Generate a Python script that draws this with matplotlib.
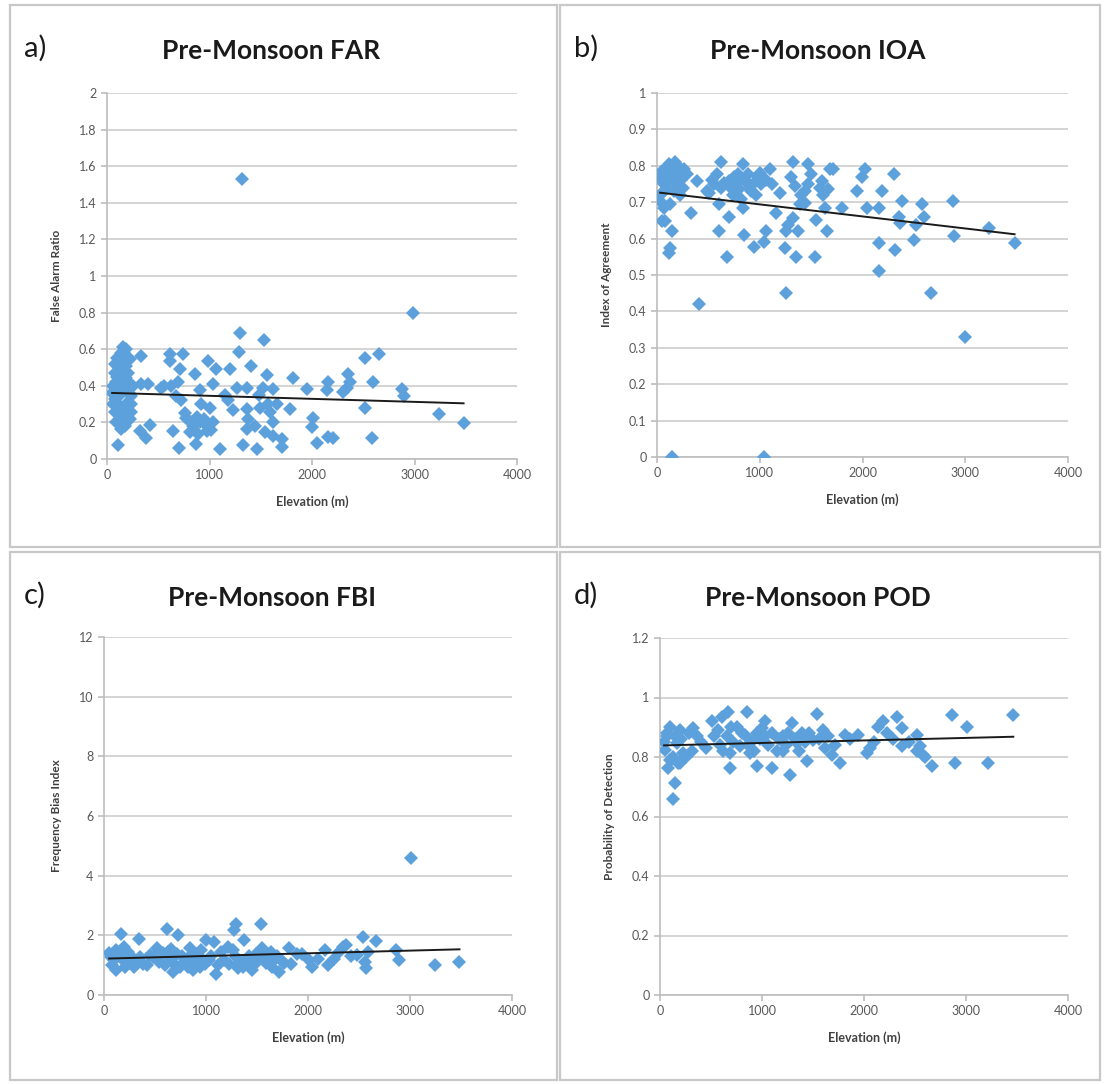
import numpy as np
import matplotlib
matplotlib.use('Agg')
import matplotlib.pyplot as plt
from matplotlib.patches import Rectangle

# ---- data: (elevation m, value) ----
far_points = [
    (2990, 0.80), (1296, 0.69), (1534, 0.65), (1290, 0.585), (335, 0.565),
    (612, 0.575), (742, 0.575), (156, 0.61), (140, 0.58), (987, 0.535),
    (1068, 0.49), (1199, 0.49), (1400, 0.51), (612, 0.535), (710, 0.49),
    (857, 0.465), (1557, 0.46), (1811, 0.44), (2160, 0.42), (2355, 0.465),
    (2371, 0.42), (2518, 0.55), (2658, 0.575), (2593, 0.42), (2876, 0.38),
    (2893, 0.345), (1948, 0.38), (2143, 0.375), (2306, 0.365), (2339, 0.39),
    (335, 0.41), (401, 0.41), (531, 0.39), (629, 0.40), (678, 0.345),
    (726, 0.32), (906, 0.375), (1036, 0.41), (1182, 0.32), (1264, 0.39),
    (1362, 0.39), (1524, 0.39), (1622, 0.385), (1655, 0.30), (1785, 0.275),
    (1492, 0.28), (1590, 0.255), (1362, 0.275), (1378, 0.22), (1443, 0.18),
    (1362, 0.165), (1329, 0.075), (1459, 0.055), (1541, 0.145), (1622, 0.125),
    (1704, 0.11), (1704, 0.065), (1101, 0.055), (704, 0.06), (866, 0.08),
    (645, 0.155), (319, 0.155), (378, 0.115), (417, 0.185), (107, 0.075),
    (775, 0.225), (840, 0.18), (906, 0.20), (971, 0.18), (1036, 0.20),
    (808, 0.145), (1003, 0.28), (971, 0.155), (889, 0.135), (2013, 0.225),
    (1997, 0.175), (2045, 0.09), (2160, 0.12), (2208, 0.115), (2518, 0.28),
    (2583, 0.115), (3235, 0.245), (3479, 0.195), (75, 0.47), (91, 0.42),
    (124, 0.38), (173, 0.545), (189, 0.51), (205, 0.47), (156, 0.435),
    (75, 0.33), (124, 0.29), (189, 0.27), (75, 0.255), (124, 0.22),
    (173, 0.18), (221, 0.22), (140, 0.165), (91, 0.20), (238, 0.345),
    (59, 0.40), (221, 0.545), (140, 0.49), (189, 0.60), (107, 0.365),
    (205, 0.31), (156, 0.235), (238, 0.255), (1317, 1.53),
    (60, 0.30), (80, 0.52), (100, 0.45), (110, 0.40), (130, 0.35),
    (150, 0.52), (170, 0.38), (190, 0.44), (200, 0.42), (210, 0.36),
    (230, 0.30), (95, 0.55), (170, 0.58), (250, 0.40), (120, 0.50),
    (50, 0.36), (560, 0.40), (690, 0.42), (760, 0.25), (920, 0.30),
    (1150, 0.35), (1230, 0.27), (1480, 0.35), (1570, 0.30), (1620, 0.20),
    (950, 0.22), (1010, 0.16), (820, 0.20), (880, 0.23),
]

ioa_points = [
    (180, 0.81), (114, 0.805), (49, 0.786), (82, 0.768), (147, 0.777),
    (212, 0.78), (65, 0.75), (196, 0.75), (294, 0.777), (392, 0.758),
    (327, 0.67), (33, 0.72), (65, 0.684), (82, 0.647), (147, 0.62),
    (131, 0.573), (114, 0.56), (49, 0.647), (33, 0.703), (131, 0.694),
    (621, 0.81), (588, 0.777), (507, 0.726), (605, 0.694), (703, 0.66),
    (686, 0.55), (605, 0.62), (654, 0.754), (752, 0.768), (833, 0.805),
    (882, 0.777), (948, 0.754), (1013, 0.749), (801, 0.735), (833, 0.684),
    (850, 0.61), (948, 0.578), (1046, 0.59), (1062, 0.62), (1095, 0.79),
    (1193, 0.726), (1160, 0.67), (1242, 0.573), (1260, 0.45), (1324, 0.81),
    (1307, 0.768), (1340, 0.745), (1405, 0.721), (1389, 0.694), (1471, 0.805),
    (1503, 0.777), (1438, 0.698), (1324, 0.656), (1275, 0.638), (1373, 0.62),
    (1258, 0.62), (1356, 0.55), (1536, 0.55), (1552, 0.652), (1601, 0.758),
    (1667, 0.735), (1683, 0.79), (1716, 0.79), (1634, 0.684), (1650, 0.62),
    (1797, 0.684), (1944, 0.73), (1994, 0.768), (2026, 0.79), (2042, 0.684),
    (2157, 0.684), (2189, 0.73), (2157, 0.587), (2157, 0.51), (2304, 0.777),
    (2320, 0.57), (2386, 0.703), (2353, 0.66), (2369, 0.643), (2516, 0.638),
    (2500, 0.596), (2582, 0.694), (2598, 0.66), (2663, 0.45), (2876, 0.703),
    (2892, 0.606), (3235, 0.629), (3480, 0.587), (409, 0.42), (145, 0.0),
    (1040, 0.0), (3000, 0.33), (703, 0.758), (768, 0.75), (882, 0.75),
    (980, 0.768), (556, 0.75), (490, 0.73), (784, 0.777), (915, 0.73),
    (817, 0.708), (1438, 0.73), (1471, 0.75), (1618, 0.72), (1585, 0.74),
    (40, 0.76), (60, 0.78), (90, 0.79), (110, 0.77), (130, 0.76),
    (160, 0.79), (190, 0.77), (230, 0.76), (250, 0.74), (100, 0.74),
    (70, 0.73), (170, 0.73), (220, 0.72), (260, 0.79), (30, 0.77),
    (200, 0.80), (150, 0.80), (540, 0.76), (620, 0.74), (720, 0.74),
    (860, 0.76), (900, 0.74), (960, 0.72), (1000, 0.78), (1060, 0.76),
    (740, 0.72), (1120, 0.75),
]

fbi_points = [
    (3007, 4.6), (1293, 2.39), (1277, 2.17), (1542, 2.39), (614, 2.22),
    (728, 2.0), (162, 2.06), (340, 1.89), (1002, 1.83), (1083, 1.78),
    (1374, 1.83), (1212, 1.61), (841, 1.56), (517, 1.56), (1552, 1.56),
    (1810, 1.56), (2166, 1.5), (2344, 1.61), (2376, 1.67), (2538, 1.94),
    (2668, 1.81), (2587, 1.44), (2861, 1.5), (2894, 1.17), (3249, 1.0),
    (3485, 1.11), (2554, 1.11), (2571, 0.89), (2037, 0.94), (2199, 1.0),
    (2005, 1.17), (1940, 1.39), (1762, 1.06), (1714, 0.78), (1665, 1.17),
    (1584, 1.06), (1455, 0.83), (1358, 0.94), (1309, 0.89), (1390, 1.17),
    (1293, 1.28), (1099, 0.72), (1034, 1.17), (938, 0.94), (873, 0.83),
    (809, 1.17), (744, 0.94), (679, 0.78), (647, 1.17), (630, 1.44),
    (711, 1.39), (905, 1.39), (970, 1.17), (420, 1.0), (291, 0.94),
    (356, 1.28), (113, 0.83), (97, 1.17), (146, 1.39), (194, 1.61),
    (226, 1.28), (259, 1.06), (65, 1.28), (485, 1.28), (1180, 1.17),
    (1487, 1.39), (1633, 1.44), (1891, 1.39),
    (50, 1.4), (80, 1.0), (120, 1.5), (180, 1.2), (210, 0.95),
    (240, 1.45), (280, 1.25), (320, 1.1), (380, 1.05), (450, 1.35),
    (540, 1.1), (580, 1.4), (600, 1.0), (660, 1.55), (690, 1.05),
    (760, 1.3), (780, 1.1), (820, 0.95), (850, 1.35), (880, 1.1),
    (950, 1.5), (990, 1.05), (1050, 1.3), (1120, 1.0), (1150, 1.45),
    (1230, 1.05), (1260, 1.5), (1330, 1.1), (1420, 1.3), (1470, 1.0),
    (1520, 1.2), (1600, 1.3), (1650, 0.95), (1700, 1.3), (1750, 1.1),
    (1830, 1.05), (2100, 1.2), (2250, 1.2), (2300, 1.45), (2420, 1.3),
    (2480, 1.35),
]

pod_points = [
    (3464, 0.94), (2859, 0.94), (3007, 0.902), (1536, 0.944), (850, 0.95),
    (670, 0.952), (507, 0.92), (605, 0.936), (1029, 0.92), (2320, 0.936),
    (2190, 0.92), (2140, 0.902), (2369, 0.897), (2516, 0.874), (2892, 0.78),
    (3219, 0.78), (2663, 0.769), (2582, 0.808), (2549, 0.836), (2369, 0.836),
    (2059, 0.83), (2026, 0.813), (1944, 0.874), (1814, 0.874), (1765, 0.78),
    (1683, 0.808), (1618, 0.83), (1601, 0.891), (1503, 0.858), (1438, 0.786),
    (1389, 0.88), (1291, 0.913), (1275, 0.741), (1258, 0.88), (1209, 0.819),
    (1144, 0.819), (1095, 0.763), (997, 0.897), (1029, 0.869), (948, 0.769),
    (882, 0.813), (833, 0.874), (784, 0.836), (686, 0.763), (686, 0.813),
    (588, 0.841), (572, 0.891), (327, 0.897), (359, 0.869), (310, 0.819),
    (196, 0.891), (98, 0.902), (65, 0.869), (49, 0.824), (98, 0.791),
    (196, 0.78), (82, 0.763), (147, 0.713), (124, 0.66), (163, 0.847),
    (229, 0.813), (1209, 0.869), (1340, 0.847), (948, 0.88), (915, 0.858),
    (752, 0.902), (654, 0.869),
    (40, 0.85), (70, 0.88), (110, 0.79), (130, 0.80), (150, 0.87),
    (180, 0.78), (210, 0.86), (250, 0.80), (280, 0.88), (400, 0.85),
    (450, 0.83), (530, 0.87), (620, 0.82), (700, 0.90), (720, 0.85),
    (800, 0.88), (860, 0.84), (920, 0.82), (980, 0.86), (1060, 0.84),
    (1100, 0.88), (1170, 0.86), (1240, 0.84), (1320, 0.86), (1360, 0.82),
    (1420, 0.85), (1460, 0.88), (1560, 0.86), (1650, 0.87), (1720, 0.84),
    (1860, 0.86), (2100, 0.85), (2230, 0.88), (2280, 0.86), (2440, 0.85),
    (2520, 0.82), (2600, 0.80),
]

panel_letters = ['a)', 'b)', 'c)', 'd)']
titles = ['Pre-Monsoon FAR', 'Pre-Monsoon IOA', 'Pre-Monsoon FBI', 'Pre-Monsoon POD']
ylabels = ['False Alarm Ratio', 'Index of Agreement', 'Frequency Bias Index',
           'Probability of Detection']
ymaxes = [2, 1, 12, 1.2]
ysteps = [0.2, 0.1, 2, 0.2]
all_points = [far_points, ioa_points, fbi_points, pod_points]

W, H = 1105, 1084
BLUE = '#5da1dc'
plt.rcParams['font.family'] = ['Lato', 'DejaVu Sans']

fig = plt.figure(figsize=(W / 100, H / 100), dpi=100)


def px_rect(l, t, r, b):
    return [l / W, 1 - b / H, (r - l) / W, (b - t) / H]


# panel frames (pixels)
frames = [(10, 5, 557, 547), (560, 5, 1100, 547),
          (10, 552, 557, 1080), (560, 552, 1100, 1080)]
# plot areas (pixels)
areas = [(107, 93, 517, 459), (657, 93, 1068, 457),
         (104, 637, 512, 995), (660, 638, 1068, 995)]

for i in range(4):
    fl, ft, fr, fb = frames[i]
    fig.add_artist(Rectangle((fl / W, 1 - fb / H), (fr - fl) / W, (fb - ft) / H,
                             transform=fig.transFigure, fill=False,
                             edgecolor='#c8c8c8', linewidth=1.6))

    ax = fig.add_axes(px_rect(*areas[i]))
    pts = np.array(all_points[i])
    x, y = pts[:, 0], pts[:, 1]
    ax.plot(x, y, linestyle='none', marker='D', markersize=7,
            color=BLUE, markeredgewidth=0, zorder=3)

    # linear trendline
    k, c = np.polyfit(x, y, 1)
    xt = np.array([x.min(), x.max()])
    ax.plot(xt, k * xt + c, color='#1a1a1a', linewidth=1.4, zorder=4)

    ax.set_xlim(0, 4000)
    ax.set_ylim(0, ymaxes[i])
    ax.set_xticks(np.arange(0, 4001, 1000))
    ax.set_yticks(np.arange(0, ymaxes[i] + ysteps[i] / 2, ysteps[i]))
    ax.set_yticklabels(['%g' % round(v, 1) for v in ax.get_yticks()])
    ax.yaxis.grid(True, color='#d4d4d4', linewidth=1.4)
    ax.set_axisbelow(True)
    for s in ['top', 'right']:
        ax.spines[s].set_visible(False)
    for s in ['left', 'bottom']:
        ax.spines[s].set_color('#bdbdbd')
        ax.spines[s].set_linewidth(1.2)
    ax.tick_params(colors='#bdbdbd', labelcolor='#595959', labelsize=9,
                   length=4, width=1.2)
    ax.set_xlabel('Elevation (m)', fontsize=9, fontweight='bold',
                  color='#404040', labelpad=10)
    ax.set_ylabel(ylabels[i], fontsize=8.5, fontweight='bold',
                  color='#404040', labelpad=12)

    # title and panel letter, placed in pixels
    cx = (fl + fr) / 2 - 12
    fig.text(cx / W, 1 - (ft + 46) / H, titles[i], fontsize=19,
             fontweight='bold', ha='center', va='center', color='#1a1a1a')
    fig.text((fl + 14) / W, 1 - (ft + 43) / H, panel_letters[i], fontsize=21,
             ha='left', va='center', color='#1a1a1a')

fig.savefig('out.png', dpi=100, facecolor='white')
